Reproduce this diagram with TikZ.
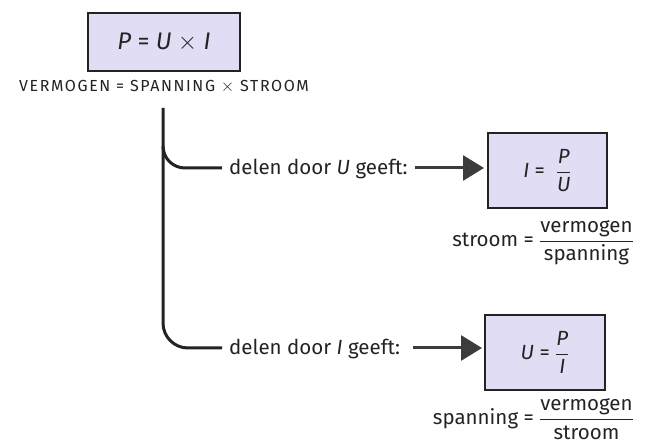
\documentclass[tikz,border=0pt]{standalone}
\usepackage{fontspec}
\setmainfont{Fira Sans}
\usetikzlibrary{arrows.meta}
\definecolor{lav}{RGB}{224,221,245}
\definecolor{ink}{RGB}{35,35,35}
\definecolor{arr}{RGB}{60,60,60}
\tikzset{
  fbox/.style={draw=ink, line width=1.6pt, fill=lav, minimum width=#1, inner sep=0pt},
  body/.style={font=\fontsize{20.5}{24}\selectfont, text=ink, inner sep=0pt},
  tree/.style={draw=ink, line width=3pt},
  arrline/.style={draw=arr, line width=3pt, -{Triangle[length=21pt,width=25pt]}},
}
\newcommand{\fr}[2]{$\displaystyle\frac{\mbox{#1}}{\mbox{#2}}$}
\begin{document}
\begin{tikzpicture}[x=1pt,y=-1pt]
\useasboundingbox (0,0) rectangle (648,443);
% top box
\node[fbox=152pt, minimum height=58pt, font=\fontsize{24}{28}\selectfont, text=ink] (top) at (164,42) {\textit{P} = \textit{U} $\times$ \textit{I}};
\node[font=\fontsize{16}{18}\selectfont\addfontfeatures{LetterSpace=10}, text=ink, inner sep=0pt] (words) at (164,87) {VERMOGEN = SPANNING $\times$ STROOM};
% tree
\coordinate (vtop) at (163,108);
\coordinate (b1s) at (163,146);
\coordinate (b1e) at (222,168);
\coordinate (b2e) at (222,348);
\draw[tree, line cap=butt] (vtop) -- (163,323) arc[start angle=180, end angle=270, radius=25pt] -- (b2e);
\draw[tree] (b1s) to[out=-90,in=180] (185,168) -- (b1e);
% branch 1
\node[body, anchor=base west] (t1) at (229,175) {delen door \textit{U} geeft:};
\node[fbox=119pt, minimum height=75pt, body] (box1) at (547.5,170.5) {\textit{I} =\ \ \fr{\textit{P}}{\textit{U}}};
\coordinate (a1s) at (415,168);
\coordinate (a1e) at (484,168);
\draw[arrline] (a1s) -- (a1e);
\node[body, anchor=east] (lab1) at (634,243) {stroom =\ \fr{vermogen}{spanning}};
% branch 2
\node[body, anchor=base west] (t2) at (229,355) {delen door \textit{I} geeft:};
\node[fbox=120pt, minimum height=75pt, body] (box2) at (545,352.5) {\textit{U} = \fr{\textit{P}}{\textit{I}}};
\coordinate (a2s) at (413,348);
\coordinate (a2e) at (482,348);
\draw[arrline] (a2s) -- (a2e);
\node[body, anchor=east] (lab2) at (634,419) {spanning =\ \fr{vermogen}{stroom}};
\end{tikzpicture}
\end{document}
